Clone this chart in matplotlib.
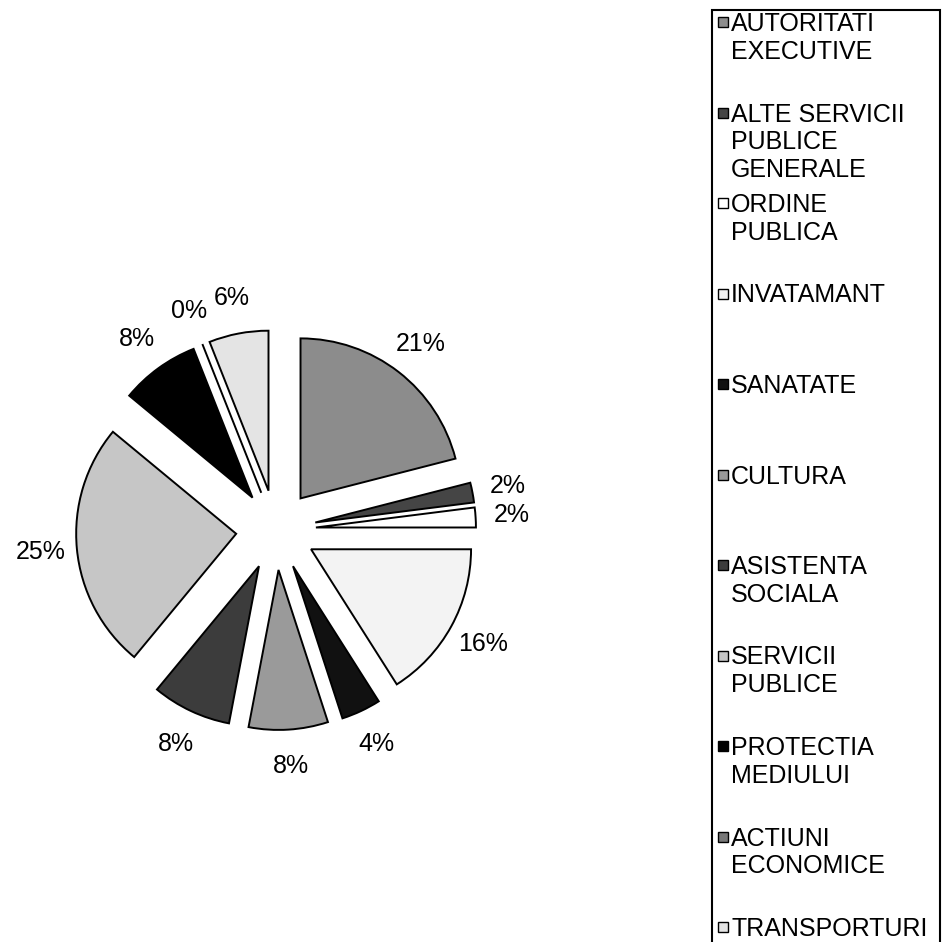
import matplotlib
matplotlib.use('Agg')
import matplotlib.pyplot as plt
from matplotlib.patches import Rectangle

categorii = ['AUTORITATI\nEXECUTIVE', 'ALTE SERVICII\nPUBLICE\nGENERALE', 'ORDINE\nPUBLICA',
             'INVATAMANT', 'SANATATE', 'CULTURA', 'ASISTENTA\nSOCIALA', 'SERVICII\nPUBLICE',
             'PROTECTIA\nMEDIULUI', 'ACTIUNI\nECONOMICE', 'TRANSPORTURI']
procente = [21, 2, 2, 16, 4, 8, 8, 25, 8, 0, 6]
culori = ['#8c8c8c', '#454545', '#ffffff', '#f3f3f3', '#111111', '#9a9a9a',
          '#3c3c3c', '#c6c6c6', '#000000', '#777777', '#e4e4e4']

W, H = 950, 942
fig = plt.figure(figsize=(W / 100, H / 100), dpi=100)
ax = fig.add_axes([0, 0, 1, 1])

# pie, everything exploded like in the excel original (explode is in data units here)
wedges, texts = ax.pie(procente, explode=[40] * len(procente),
                       labels=[f'{v}%' for v in procente],
                       labeldistance=1.225, startangle=90, counterclock=False,
                       center=(276, H - 530), radius=160, colors=culori,
                       wedgeprops=dict(edgecolor='black', linewidth=1.4),
                       textprops=dict(fontsize=18, family='Liberation Sans', color='black'))
for t in texts:
    t.set_ha('center')

ax.set_xlim(0, W)
ax.set_ylim(0, H)
ax.axis('off')

# legend box (runs off the bottom of the page)
ax.add_patch(Rectangle((712, -20), 228, H - 10 + 20, fill=False, edgecolor='black', linewidth=1.5))
for i, (nume, c) in enumerate(zip(categorii, culori)):
    y = H - (22 + i * 90.5)
    ax.add_patch(Rectangle((718, y - 5), 10, 10, facecolor=c, edgecolor='black', linewidth=1))
    ax.text(731, y + 10, nume, ha='left', va='top', fontsize=18, family='Liberation Sans',
            color='black', linespacing=1.2)

fig.savefig('out.png', dpi=100)
